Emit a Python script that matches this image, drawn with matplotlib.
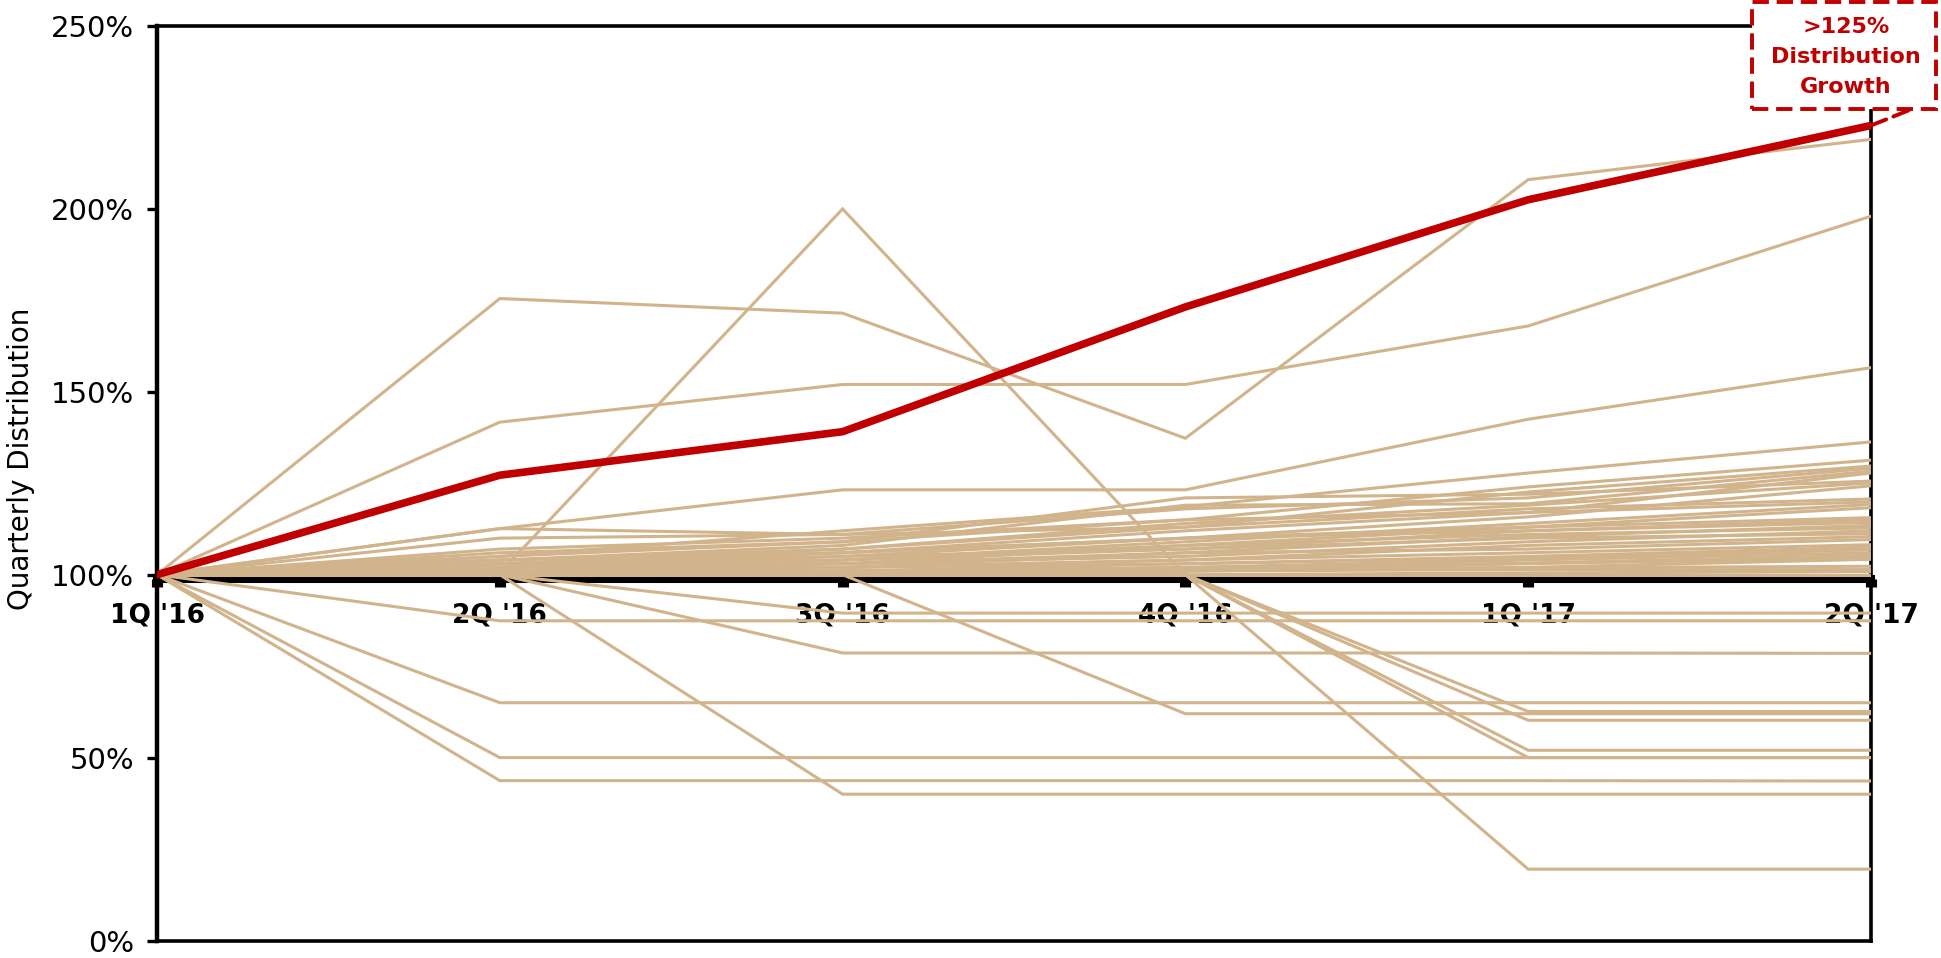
import matplotlib
matplotlib.use("Agg")
import matplotlib.pyplot as plt
from matplotlib.patches import Rectangle, ConnectionPatch
from matplotlib.ticker import FuncFormatter

# ---------------- data ----------------
quarters = ["1Q '16", "2Q '16", "3Q '16", "4Q '16", "1Q '17", "2Q '17"]

highlight = [100, 127.2, 139.1, 173.2, 202.5, 222.8]

peers_high = [
    [100, 175.5, 171.5, 137.3, 208.0, 219.0],
    [100, 141.7, 152.0, 152.0, 168.0, 198.0],
    [100, 112.6, 123.2, 123.2, 142.5, 156.6],
    [100, 100.5, 200.0, 100.0, 19.5, 19.5],
]

peers_cluster = [
    [100, 105.0, 112.0, 118.6, 127.8, 136.3],
    [100, 107.0, 110.0, 115.0, 124.0, 131.3],
    [100, 110.0, 111.0, 113.0, 122.6, 129.7],
    [100, 112.6, 111.0, 118.0, 121.0, 129.1],
    [100, 104.0, 108.0, 119.0, 119.4, 128.3],
    [100, 103.0, 106.0, 112.0, 117.0, 127.8],
    [100, 106.0, 109.0, 121.0, 122.0, 125.6],
    [100, 104.0, 107.0, 114.0, 119.0, 125.1],
    [100, 102.0, 105.0, 110.0, 115.8, 124.3],
    [100, 103.0, 107.0, 113.0, 118.0, 120.7],
    [100, 105.0, 109.0, 115.0, 117.0, 119.9],
    [100, 102.0, 104.0, 109.0, 114.0, 119.2],
    [100, 101.0, 103.0, 108.0, 113.0, 118.3],
    [100, 104.0, 106.0, 110.0, 113.0, 115.6],
    [100, 103.0, 105.0, 107.0, 112.0, 115.0],
    [100, 102.0, 106.0, 110.0, 112.0, 114.3],
    [100, 101.0, 102.0, 106.0, 110.4, 113.5],
    [100, 103.0, 104.0, 108.0, 111.0, 112.8],
    [100, 102.0, 103.0, 105.0, 109.0, 112.0],
    [100, 101.0, 104.0, 107.0, 110.0, 111.2],
    [100, 100.5, 102.0, 104.0, 108.0, 110.4],
    [100, 102.0, 103.0, 106.0, 107.0, 109.6],
    [100, 101.0, 102.0, 104.0, 106.0, 108.2],
    [100, 100.0, 101.0, 103.0, 105.0, 107.5],
    [100, 101.0, 102.0, 103.0, 104.5, 106.8],
    [100, 100.0, 100.0, 102.0, 104.0, 106.0],
    [100, 101.0, 101.0, 102.0, 103.2, 105.3],
    [100, 100.0, 101.0, 101.0, 103.0, 104.6],
    [100, 100.0, 100.0, 101.0, 102.0, 104.2],
    [100, 100.5, 101.0, 101.5, 101.9, 102.3],
    [100, 100.0, 100.5, 101.0, 101.4, 101.4],
    [100, 100.0, 100.0, 100.0, 100.5, 100.8],
    [100, 100.0, 100.0, 100.0, 100.0, 100.0],
]

peers_low = [
    [100, 100.0, 89.5, 89.5, 89.5, 89.5],
    [100, 87.4, 87.4, 87.4, 87.4, 87.4],
    [100, 100.0, 78.6, 78.6, 78.6, 78.5],
    [100, 65.0, 65.0, 65.0, 65.0, 65.0],
    [100, 100.0, 100.0, 62.0, 62.0, 62.0],
    [100, 100.0, 100.0, 100.0, 62.6, 62.6],
    [100, 100.0, 100.0, 100.0, 60.2, 60.2],
    [100, 100.0, 100.0, 100.0, 52.0, 52.0],
    [100, 100.0, 100.0, 100.0, 50.0, 50.0],
    [100, 50.0, 50.0, 50.0, 50.0, 50.0],
    [100, 43.7, 43.7, 43.7, 43.7, 43.6],
    [100, 100.0, 40.0, 40.0, 40.0, 40.0],
]

y_ticks = [0, 50, 100, 150, 200, 250]
y_label = "Quarterly Distribution"
callout_text = ">125%\nDistribution\nGrowth"

# ---------------- style ----------------
TAN = "#D2B48C"
RED = "#C00000"
W, H = 1941, 958
AX_L, AX_R, AX_T, AX_B = 157, 1871, 26, 940.5

fig = plt.figure(figsize=(W / 100, H / 100), dpi=100)
ax = fig.add_axes([AX_L / W, 1 - AX_B / H, (AX_R - AX_L) / W, (AX_B - AX_T) / H])

xs = list(range(len(quarters)))
for series in peers_high + peers_cluster + peers_low:
    ax.plot(xs, series, color=TAN, lw=2.2, zorder=3, solid_joinstyle="miter")
ax.plot(xs, highlight, color=RED, lw=5.5, zorder=5, solid_joinstyle="miter")

ax.set_xlim(0, len(quarters) - 1)
ax.set_ylim(y_ticks[0], y_ticks[-1])
ax.set_xticks(xs)
ax.set_xticklabels(quarters)
ax.set_yticks(y_ticks)
ax.yaxis.set_major_formatter(FuncFormatter(lambda v, p: f"{v:.0f}%"))

# x axis crosses at 100%
ax.spines["bottom"].set_position(("data", 98.9))
ax.spines["bottom"].set_linewidth(5.8)
ax.spines["left"].set_linewidth(3.2)
ax.spines["top"].set_linewidth(2.6)
ax.spines["right"].set_linewidth(2.6)
ax.axhline(0, color="black", lw=2.6, clip_on=False, zorder=2.6)

ax.tick_params(axis="x", direction="out", length=6, width=8, pad=11,
               labelsize=19, colors="black")
ax.tick_params(axis="y", direction="out", length=7.5, width=2.4, pad=9,
               labelsize=21)
for lbl in ax.get_xticklabels():
    lbl.set_fontweight("bold")

fig.text(21 / W, 1 - 459 / H, y_label, rotation=90, ha="center", va="center",
         fontsize=20)

# callout box
box_l, box_r, box_t, box_b = 1752, 1936, 2, 109
rect = Rectangle((box_l / W, 1 - box_b / H), (box_r - box_l) / W, (box_b - box_t) / H,
                 transform=fig.transFigure, facecolor="white", edgecolor=RED,
                 lw=2.8, linestyle=(0, (4.2, 2.0)), zorder=10, clip_on=False)
fig.add_artist(rect)
con = ConnectionPatch(xyA=(xs[-1], highlight[-1]), coordsA=ax.transData,
                      xyB=(1912 / W, 1 - box_b / H), coordsB=fig.transFigure,
                      color=RED, lw=2.8, linestyle=(0, (4.2, 2.0)), zorder=11)
fig.add_artist(con)
fig.text(1846 / W, 1 - 57 / H, callout_text, ha="center", va="center",
         color=RED, fontweight="bold", fontsize=16, linespacing=1.6, zorder=12)

fig.savefig("out.png", dpi=100, facecolor="white")
